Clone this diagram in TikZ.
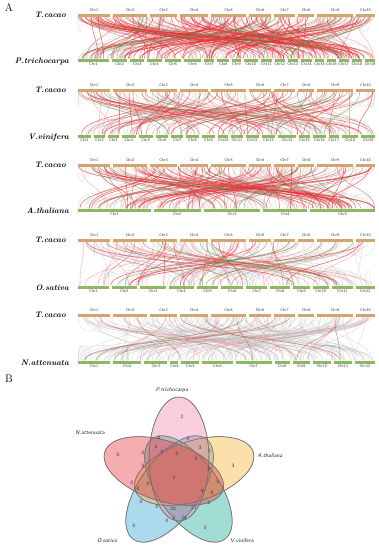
\documentclass[tikz,border=0pt]{standalone}
\usepackage{tikz}
\usetikzlibrary{arrows.meta,positioning}

\definecolor{cacaobar}{RGB}{206,166,110}
\definecolor{otherbar}{RGB}{138,186,96}
\definecolor{linkred}{RGB}{238,40,50}
\definecolor{linkpink}{RGB}{250,140,155}
\definecolor{linkbrown}{RGB}{168,98,70}
\definecolor{linkgreen}{RGB}{70,165,80}
\definecolor{vpink}{RGB}{238,130,170}
\definecolor{vred}{RGB}{230,50,60}
\definecolor{vorange}{RGB}{245,175,50}
\definecolor{vblue}{RGB}{50,160,210}
\definecolor{vteal}{RGB}{20,170,150}

% one row of chromosome bars: y, lengths, label offset, style, name
\newcommand{\chrrow}[5]{%
  \gdef\chrtot{0}\gdef\chrn{0}%
  \foreach \len in {#2} {%
    \pgfmathsetmacro\chrt{\chrtot+\len}\global\let\chrtot\chrt
    \pgfmathtruncatemacro\chrc{\chrn+1}\global\let\chrn\chrc}%
  \pgfmathsetmacro\chrsc{(297-3*(\chrn-1))/\chrtot}%
  \gdef\chrpos{78}%
  \foreach \len [count=\i] in {#2} {
    \pgfmathsetmacro\chrend{\chrpos+\len*\chrsc}
    \draw[chrbar, #4] (\chrpos,#1) -- (\chrend,#1);
    \node[chrlbl] (#5-\i) at ({(\chrpos+\chrend)/2},{#1+(#3)}) {Chr\i};
    \pgfmathsetmacro\chrnext{\chrend+3}
    \global\let\chrpos\chrnext
  }%
}
% links between two rows: ytop, ybot, count, style
\newcommand{\links}[4]{%
  \foreach \k in {1,...,#3} {
    \pgfmathsetmacro\xa{78+297*rnd}
    \pgfmathsetmacro\xb{78+297*rnd}
    \draw[#4] (\xa,#1) .. controls (\xa,{(#1+#2)/2}) and (\xb,{(#1+#2)/2}) .. (\xb,#2);
  }%
}
% arcs inside one row: y, bow, count, style
\newcommand{\arcs}[4]{%
  \foreach \k in {1,...,#3} {
    \pgfmathsetmacro\xa{78+297*rnd}
    \pgfmathsetmacro\xb{max(78,min(375,\xa+(rnd-.5)*140))}
    \draw[#4] (\xa,#1) .. controls (\xa,{#1+(#2)}) and (\xb,{#1+(#2)}) .. (\xb,#1);
  }%
}

\begin{document}
\begin{tikzpicture}[x=1pt,y=-1pt,
  chrbar/.style={line width=3pt},
  chrlbl/.style={font=\sffamily\fontsize{4}{4}\selectfont, text=black!80,
    inner sep=0pt},
  species/.style={font=\fontsize{8}{9}\selectfont\bfseries\itshape,
    anchor=east, inner sep=0pt},
  panel/.style={font=\fontsize{11}{12}\selectfont, inner sep=0pt},
  graylink/.style={draw=gray!60, draw opacity=.4, line width=.45pt},
  pinklink/.style={draw=linkpink, draw opacity=.45, line width=.8pt},
  brownlink/.style={draw=linkbrown, draw opacity=.55, line width=.6pt},
  redlink/.style={draw=linkred, draw opacity=.65, line width=.6pt},
  greenlink/.style={draw=linkgreen, draw opacity=.6, line width=.6pt},
  set/.style={draw=black!55, line width=.5pt, fill opacity=.4},
  setlbl/.style={font=\sffamily\itshape\fontsize{5.5}{6}\selectfont,
    text=black!85, inner sep=0pt},
  num/.style={font=\sffamily\fontsize{5}{5}\selectfont, text=black!80,
    inner sep=0pt}
]
\path[fill=white] (0,0) rectangle (379,550);
\pgfmathsetseed{23}

\node[panel] (pa) at (9,8) {A};
\node[panel] (pb) at (9,379) {B};

% T.cacao vs P.trichocarpa
\arcs{16.5}{20}{15}{graylink}
\arcs{58.5}{-20}{10}{graylink}
\links{16.5}{58.5}{30}{graylink}
\links{16.5}{58.5}{80}{pinklink}
\links{16.5}{58.5}{40}{brownlink}
\links{16.5}{58.5}{65}{redlink}
\links{16.5}{58.5}{12}{greenlink}
\chrrow{15}{32,34,27,28,35,22,21,16,36,19}{-5}{cacaobar}{tc1}
\chrrow{60}{50,25,22,24,26,28,16,20,13,23,18,16,16,18,15,14,16,17,16}{4.5}{otherbar}{pt}
\node[species] (sp1) at (66,15) {T.cacao};
\node[species] (sp2) at (69,61) {P.trichocarpa};

% T.cacao vs V.vinifera
\arcs{91.5}{20}{12}{graylink}
\arcs{134.5}{-20}{12}{graylink}
\links{91.5}{134.5}{30}{graylink}
\links{91.5}{134.5}{40}{pinklink}
\links{91.5}{134.5}{35}{brownlink}
\links{91.5}{134.5}{25}{redlink}
\links{91.5}{134.5}{8}{greenlink}
\chrrow{90}{32,34,27,28,35,22,21,16,36,19}{-5}{cacaobar}{tc2}
\chrrow{136}{23,18.7,19.3,24,25,21.5,21,22.4,23,18.1,19.8,22.7,24.1,30.3,20.3,21.9,17.1,29.4,24}{4.5}{otherbar}{vv}
\node[species] (sp3) at (66,90) {T.cacao};
\node[species] (sp4) at (69,137) {V.vinifera};

% T.cacao vs A.thaliana
\arcs{166.5}{20}{12}{graylink}
\arcs{208.5}{-20}{10}{graylink}
\links{166.5}{208.5}{35}{graylink}
\links{166.5}{208.5}{55}{pinklink}
\links{166.5}{208.5}{30}{brownlink}
\links{166.5}{208.5}{40}{redlink}
\links{166.5}{208.5}{8}{greenlink}
\chrrow{165}{32,34,27,28,35,22,21,16,36,19}{-5}{cacaobar}{tc3}
\chrrow{210}{30.4,19.7,23.5,18.6,27}{4}{otherbar}{at}
\node[species] (sp5) at (66,165) {T.cacao};
\node[species] (sp6) at (69,211) {A.thaliana};

% T.cacao vs O.sativa
\arcs{241.5}{20}{12}{graylink}
\arcs{285.5}{-20}{12}{graylink}
\links{241.5}{285.5}{55}{graylink}
\links{241.5}{285.5}{30}{pinklink}
\links{241.5}{285.5}{22}{brownlink}
\links{241.5}{285.5}{10}{redlink}
\links{241.5}{285.5}{5}{greenlink}
\chrrow{240}{32,34,27,28,35,22,21,16,36,19}{-5}{cacaobar}{tc4}
\chrrow{287}{43.3,35.9,36.4,35.5,29.9,31.2,29.7,28.4,23,23.2,29,27.5}{4.5}{otherbar}{os}
\node[species] (sp7) at (66,240) {T.cacao};
\node[species] (sp8) at (69,288) {O.sativa};

% T.cacao vs N.attenuata
\arcs{316.5}{20}{25}{graylink}
\arcs{360.5}{-20}{25}{graylink}
\links{316.5}{360.5}{120}{graylink}
\links{316.5}{360.5}{12}{pinklink}
\links{316.5}{360.5}{10}{brownlink}
\chrrow{315}{32,34,27,28,35,22,21,16,36,19}{-5}{cacaobar}{tc5}
\chrrow{362}{32,28,23,8,18,30,36,15,17,18,18,20}{4.5}{otherbar}{na}
\node[species] (sp9) at (66,315) {T.cacao};
\node[species] (sp10) at (69,363) {N.attenuata};

% Venn diagram
\fill[set, fill=vblue, shift={(169.6,489)}, rotate=-126] (0,0) ellipse [x radius=62, y radius=30];
\fill[set, fill=vteal, shift={(188.4,489)}, rotate=-54] (0,0) ellipse [x radius=62, y radius=30];
\fill[set, fill=vorange, shift={(194.2,471)}, rotate=18] (0,0) ellipse [x radius=62, y radius=30];
\fill[set, fill=vpink, shift={(179,459)}, rotate=90] (0,0) ellipse [x radius=62, y radius=30];
\fill[set, fill=vred, shift={(163.8,471)}, rotate=162] (0,0) ellipse [x radius=62, y radius=30];
\foreach \cx/\cy/\ang in {169.6/489/-126, 188.4/489/-54, 194.2/471/18, 179/459/90, 163.8/471/162}
  \draw[set, shift={(\cx,\cy)}, rotate=\ang] (0,0) ellipse [x radius=62, y radius=30];

\node[setlbl] (lpt) at (172,390) {P.trichocarpa};
\node[setlbl] (lna) at (90,433) {N.attenuata};
\node[setlbl] (lat) at (270,456) {A.thaliana};
\node[setlbl] (los) at (107,541) {O.sativa};
\node[setlbl] (lvv) at (242,541) {V.vinifera};

\foreach \nx/\ny/\v [count=\k] in {182/417/2, 188/439/0, 159/438/0, 156/447/2,
  143/453/0, 162/452/0, 177/454/0, 200/448/3, 210/451/1, 196/459/0,
  118/455/0, 233/466/3, 143/466/0, 174/478/3, 209/469/0, 218/482/0,
  132/483/0, 148/484/0, 138/489/0, 202/491/4, 212/493/0, 141/502/0,
  157/507/0, 173/509/20, 194/508/27, 209/503/2, 174/518/2, 184/518/24,
  167/521/0, 134/526/0, 205/528/3}
  \node[num] (n\k) at (\nx,\ny) {\v};

\end{tikzpicture}
\end{document}
